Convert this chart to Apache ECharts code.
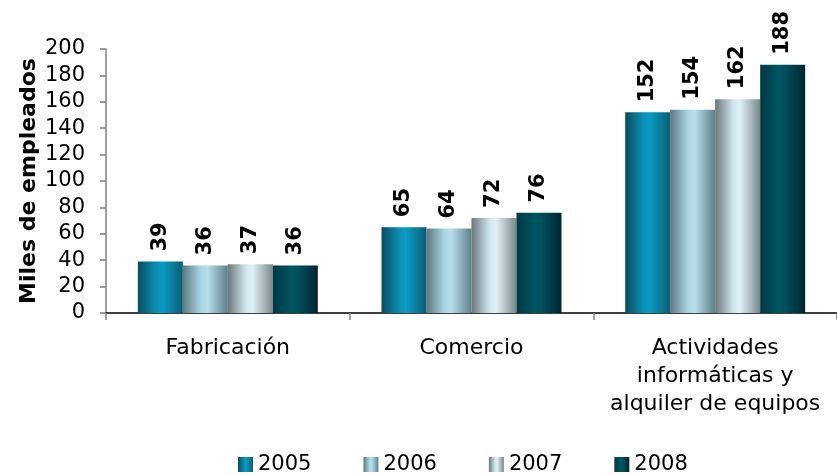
<!DOCTYPE html>
<html>
<head>
<meta charset="utf-8">
<script src="https://cdn.jsdelivr.net/npm/echarts@6/dist/echarts.min.js"></script>
<style>
  html, body { margin: 0; padding: 0; background: #fff; }
  #chart { width: 837px; height: 475px; }
</style>
</head>
<body>
<div id="chart"></div>
<script>
  // datos
  const categories = ['Fabricación', 'Comercio', 'Actividades\ninformáticas y\nalquiler de equipos']
  const years = ['2005', '2006', '2007', '2008']
  const v2005 = [39, 65, 152]
  const v2006 = [36, 64, 154]
  const v2007 = [37, 72, 162]
  const v2008 = [36, 76, 188]
  const yTicks = [0, 20, 40, 60, 80, 100, 120, 140, 160, 180, 200]

  const values = [v2005, v2006, v2007, v2008]

  // degradados horizontales (efecto cilindro)
  const stops = [
    ['#0b4c5e', '#0a8fb4', '#0b9bc2', '#0a5c73'],
    ['#5e7780', '#a9d6e3', '#b6dfea', '#5f7f8a'],
    ['#6c777b', '#cfe5ec', '#e0f1f6', '#78878c'],
    ['#003944', '#005463', '#00505e', '#00262f']
  ]
  const grad = (c) => new echarts.graphic.LinearGradient(0, 0, 1, 0, [
    { offset: 0, color: c[0] },
    { offset: 0.4, color: c[1] },
    { offset: 0.55, color: c[2] },
    { offset: 1, color: c[3] }
  ])

  const font = '"DejaVu Sans", Verdana, sans-serif'
  const chart = echarts.init(document.getElementById('chart'))

  chart.setOption({
    animation: false,
    textStyle: { fontFamily: font },
    grid: {
      left: 106,
      top: 49,
      width: 738,
      height: 264,
      containLabel: false
    },
    legend: {
      data: years,
      top: 449,
      left: 233,
      icon: 'rect',
      itemWidth: 15,
      itemHeight: 15,
      itemGap: 52,
      textStyle: { fontSize: 21, color: '#000', fontFamily: font }
    },
    xAxis: {
      type: 'category',
      data: categories,
      axisLine: { lineStyle: { color: '#000', width: 1.5 } },
      axisTick: { show: true, length: 7, lineStyle: { color: '#808080', width: 1.5 } },
      axisLabel: {
        interval: 0,
        fontSize: 22,
        lineHeight: 28,
        color: '#000',
        margin: 21,
        fontFamily: font
      }
    },
    yAxis: {
      type: 'value',
      min: yTicks[0],
      max: yTicks[yTicks.length - 1],
      interval: 20,
      name: 'Miles de empleados',
      nameLocation: 'middle',
      nameRotate: 90,
      nameGap: 66,
      nameMoveOverlap: false,
      nameTextStyle: { fontSize: 22, fontWeight: 'bold', color: '#000', fontFamily: font },
      splitLine: { show: false },
      axisLine: { show: true, lineStyle: { color: '#808080', width: 1.5 } },
      axisTick: { show: true, length: 6, lineStyle: { color: '#808080', width: 1.5 } },
      axisLabel: { fontSize: 21, color: '#000', margin: 21, fontFamily: font }
    },
    series: years.map((y, i) => ({
      name: y,
      type: 'bar',
      data: values[i],
      barWidth: 45,
      barGap: '0%',
      itemStyle: { color: grad(stops[i]) },
      label: {
        show: true,
        position: 'top',
        rotate: 90,
        align: 'left',
        verticalAlign: 'middle',
        distance: 10,
        fontSize: 21,
        fontWeight: 'bold',
        color: '#000',
        fontFamily: font
      }
    }))
  })

  window.addEventListener('resize', () => {
    chart.resize()
  })
</script>
</body>
</html>
